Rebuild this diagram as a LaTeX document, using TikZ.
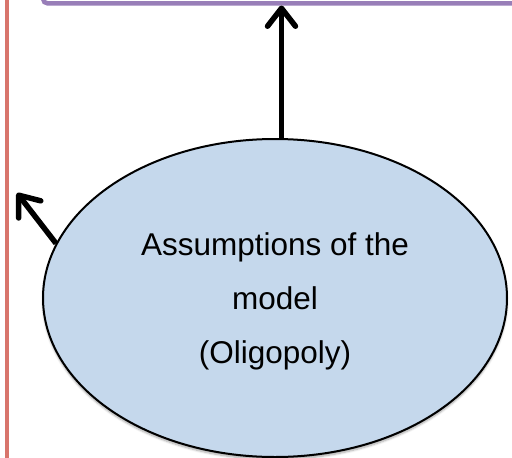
\documentclass[tikz,border=0pt]{standalone}
\usepackage{fontspec}
\setmainfont{Liberation Sans}
\usetikzlibrary{shapes.geometric,arrows.meta,shadows.blur}
\definecolor{framered}{RGB}{216,117,108}
\definecolor{framepurple}{RGB}{152,126,184}
\definecolor{ovalblue}{RGB}{197,216,236}
\begin{document}
\begin{tikzpicture}[x=1pt,y=-1pt,
  redframe/.style={draw=framered,line width=4pt,inner sep=0pt,minimum width=300pt,minimum height=600pt},
  purpleframe/.style={draw=framepurple,line width=4.5pt,rounded corners=4pt,fill=white,inner sep=0pt,minimum width=600pt,minimum height=200pt},
  oval/.style={ellipse,draw=black,line width=2pt,fill=ovalblue,minimum width=464pt,minimum height=318pt,inner sep=0pt,
    blur shadow={shadow xshift=0pt,shadow yshift=-2.5pt,shadow opacity=35,shadow blur steps=6}},
  caption/.style={align=center,font=\fontsize{31.5}{54}\selectfont,inner sep=0pt},
  flow/.style={line width=5.5pt,-{Straight Barb[length=18pt,width=28pt,line join=round,line cap=round]}}]
\useasboundingbox (0,0) rectangle (512,458);
\clip (0,0) rectangle (512,458);
% frames running off the edges of the sheet
\node[redframe,anchor=east] (leftbox) at (9.3,229) {};
\node[purpleframe,anchor=south west] (topbox) at (41,5.5) {};
% the oval and its text
\node[oval] (ell) at (275,298) {};
\node[caption] (txt) at ([yshift=-3pt]ell.center) {Assumptions of the\\model\\(Oligopoly)};
% connectors
\coordinate (up) at ([xshift=6.5pt]ell.north);
\coordinate (nw) at (17,193);
\draw[flow] (up) -- (up |- topbox.south);
\draw[flow] (ell.166) -- (nw);
\end{tikzpicture}
\end{document}
